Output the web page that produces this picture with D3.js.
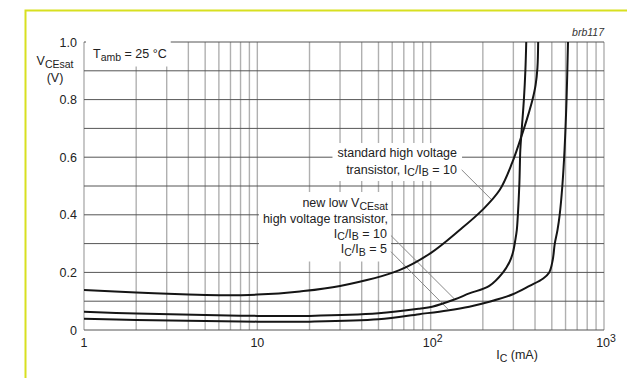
<!DOCTYPE html>
<html>
<head>
<meta charset="utf-8">
<script src="https://cdn.jsdelivr.net/npm/d3@7"></script>
<style>
  body { margin: 0; background: #fff; }
  svg { display: block; font-family: "Liberation Sans", Arial, sans-serif; }
</style>
</head>
<body>
<svg id="chart" width="627" height="378"></svg>
<script>
// VCEsat (V) against IC (mA)
var standardHV = [[1, 0.139], [2, 0.130], [4, 0.123], [6, 0.121], [10, 0.123], [17.6, 0.134], [30, 0.153],
    [66, 0.208], [100, 0.267], [147, 0.347], [199, 0.417], [250, 0.486], [295, 0.58], [343, 0.694],
    [368, 0.753], [387, 0.8], [403, 0.85], [413, 0.91], [417, 1.0]]
var newLowRatio10 = [[1, 0.063], [2, 0.057], [5, 0.052], [10, 0.049], [20, 0.049], [50, 0.058], [86, 0.074],
    [102, 0.081], [137, 0.106], [167, 0.127], [218, 0.153], [261, 0.199], [285, 0.236], [298, 0.268],
    [308, 0.313], [314, 0.347], [318, 0.393], [325, 0.51], [329, 0.625], [335, 0.694], [345, 0.8],
    [352, 0.903], [356, 1.0]]
var newLowRatio5 = [[1, 0.039], [2, 0.035], [5, 0.031], [10, 0.029], [20, 0.029], [50, 0.037], [86, 0.055],
    [125, 0.068], [167, 0.081], [218, 0.098], [298, 0.124], [372, 0.153], [446, 0.179], [483, 0.200],
    [506, 0.243], [520, 0.300], [539, 0.347], [555, 0.40], [575, 0.50], [592, 0.625], [608, 0.8],
    [620, 1.0]]

var xTicks = [1, 10, 100, 1000]
var xTickLabels = [["1"], ["10"], ["10", "2"], ["10", "3"]]
var yTicks = [0, 0.2, 0.4, 0.6, 0.8, 1.0]
var yTickLabels = ["0", "0.2", "0.4", "0.6", "0.8", "1.0"]

// leader lines, [from, to] in (mA, V)
var leaderStandard = [[151, 0.556], [225, 0.452]]
var leaderRatio10 = [[59, 0.328], [137, 0.108]]
var leaderRatio5 = [[59, 0.272], [126, 0.072]]

var svg = d3.select("#chart")

var x = d3.scaleLog().domain([1, 1000]).range([84, 604])
var y = d3.scaleLinear().domain([0, 1]).range([330, 42])

// yellow frame
svg.append("path")
    .attr("d", "M25.5,378 V10.5 H627")
    .attr("fill", "none")
    .attr("stroke", "#d8e020")
    .attr("stroke-width", 2)

// grid: every 1..9 per decade vertically, every 0.1 horizontally
var vLines = []
for (var dec = 1; dec < 1000; dec *= 10) {
    for (var m = 1; m < 10; m++) vLines.push(dec * m)
}
vLines.push(1000)
var hLines = d3.range(0, 11).map(function (i) { return i / 10 })

var grid = svg.append("g")
grid.selectAll(".v").data(vLines).enter().append("line")
    .attr("x1", function (d) { return x(d) }).attr("x2", function (d) { return x(d) })
    .attr("y1", y(0)).attr("y2", y(1))
    .attr("stroke", "#b0b0b0").attr("stroke-width", 1.4)
grid.selectAll(".h").data(hLines).enter().append("line")
    .attr("x1", x(1)).attr("x2", x(1000))
    .attr("y1", function (d) { return y(d) }).attr("y2", function (d) { return y(d) })
    .attr("stroke", "#555").attr("stroke-width", 1)

// helper for text with sub/superscripts
function richText(g, parts, size) {
    var t = g.append("text").attr("font-size", size).attr("fill", "#222")
    var shift = 0
    parts.forEach(function (p) {
        var s = t.append("tspan").text(p[0])
        var want = p[1] === "sub" ? 2.5 : p[1] === "sup" ? -5 : 0
        if (want !== shift) s.attr("dy", want - shift)
        if (p[1]) s.attr("font-size", size - 2)
        shift = want
    })
    return t
}

// white boxes behind labels
var masks = svg.append("g")
var labels = svg.append("g")
function maskBehind(g, pad) {
    g.each(function () {
        var b = this.getBBox()
        masks.append("rect")
            .attr("x", b.x - pad[3]).attr("y", b.y - pad[0])
            .attr("width", b.width + pad[1] + pad[3]).attr("height", b.height + pad[0] + pad[2])
            .attr("fill", "#fff")
    })
}

var tamb = labels.append("g")
richText(tamb, [["T"], ["amb", "sub"], [" = 25 °C"]], 12.5)
    .attr("x", 93).attr("y", 58)
maskBehind(tamb, [6, 4, 4, 7])

var std = labels.append("g").attr("text-anchor", "end")
richText(std, [["standard high voltage"]], 12.5).attr("x", 457).attr("y", 157)
richText(std, [["transistor, I"], ["C", "sub"], ["/I"], ["B", "sub"], [" = 10"]], 12.5).attr("x", 457).attr("y", 173.5)
maskBehind(std, [3, 5, 3, 5])

var nw = labels.append("g").attr("text-anchor", "end")
richText(nw, [["new low V"], ["CEsat", "sub"]], 12.5).attr("x", 388).attr("y", 207)
richText(nw, [["high voltage transistor,"]], 12.5).attr("x", 388).attr("y", 222.5)
richText(nw, [["I"], ["C", "sub"], ["/I"], ["B", "sub"], [" = 10"]], 12.5).attr("x", 387).attr("y", 237.5)
richText(nw, [["I"], ["C", "sub"], ["/I"], ["B", "sub"], [" = 5"]], 12.5).attr("x", 387).attr("y", 253)
maskBehind(nw, [4, 3, 4, 4])

// leader lines
svg.selectAll(".leader").data([leaderStandard, leaderRatio10, leaderRatio5]).enter().append("line")
    .attr("x1", function (d) { return x(d[0][0]) }).attr("y1", function (d) { return y(d[0][1]) })
    .attr("x2", function (d) { return x(d[1][0]) }).attr("y2", function (d) { return y(d[1][1]) })
    .attr("stroke", "#888").attr("stroke-width", 1)

// curves
var line = d3.line()
    .x(function (d) { return x(d[0]) })
    .y(function (d) { return y(d[1]) })
    .curve(d3.curveCatmullRom.alpha(0.5))
svg.selectAll(".curve").data([standardHV, newLowRatio10, newLowRatio5]).enter().append("path")
    .attr("d", line)
    .attr("fill", "none")
    .attr("stroke", "#151515")
    .attr("stroke-width", 2)

// axis labels
var yl = svg.append("g").attr("text-anchor", "end").attr("font-size", 12.5)
yTicks.forEach(function (v, i) {
    yl.append("text").attr("x", 77).attr("y", y(v)).attr("dy", "0.36em").attr("fill", "#222").text(yTickLabels[i])
})
var xl = svg.append("g").attr("text-anchor", "middle")
xTicks.forEach(function (v, i) {
    var lab = xTickLabels[i]
    var parts = lab.length > 1 ? [[lab[0]], [lab[1], "sup"]] : [[lab[0]]]
    richText(xl, parts, 12.5).attr("x", x(v) + (lab.length > 1 ? 2 : 0)).attr("y", 347)
})

var yt = svg.append("g").attr("text-anchor", "middle")
richText(yt, [["V"], ["CEsat", "sub"]], 12.5).attr("x", 55).attr("y", 65)
richText(yt, [["(V)"]], 12.5).attr("x", 55).attr("y", 82)

var xt = svg.append("g").attr("text-anchor", "middle")
richText(xt, [["I"], ["C", "sub"], [" (mA)"]], 12.5).attr("x", 517).attr("y", 359)

svg.append("text")
    .attr("x", 604).attr("y", 36)
    .attr("text-anchor", "end")
    .attr("font-size", 10.5)
    .attr("font-style", "italic")
    .attr("fill", "#333")
    .text("brb117")
</script>
</body>
</html>
